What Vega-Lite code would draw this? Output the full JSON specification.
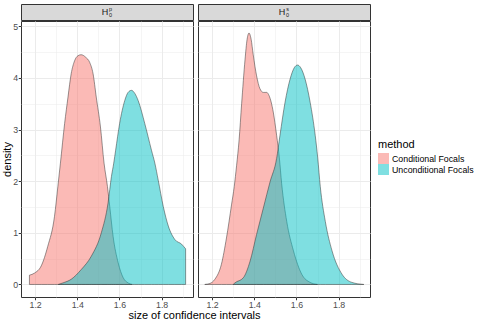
{
  "$schema": "https://vega.github.io/schema/vega-lite/v6.json",
  "padding": {"left": 1, "top": 3, "right": 0, "bottom": 0},
  "background": "white",
  "datasets": {
    "dens": [
      {"panel": "p", "method": "Conditional Focals", "x": 1.173, "density": 0.18},
      {"panel": "p", "method": "Conditional Focals", "x": 1.197, "density": 0.22},
      {"panel": "p", "method": "Conditional Focals", "x": 1.229, "density": 0.36},
      {"panel": "p", "method": "Conditional Focals", "x": 1.26, "density": 0.74},
      {"panel": "p", "method": "Conditional Focals", "x": 1.292, "density": 1.32},
      {"panel": "p", "method": "Conditional Focals", "x": 1.308, "density": 1.9},
      {"panel": "p", "method": "Conditional Focals", "x": 1.32, "density": 2.35},
      {"panel": "p", "method": "Conditional Focals", "x": 1.34, "density": 3.12},
      {"panel": "p", "method": "Conditional Focals", "x": 1.356, "density": 3.63},
      {"panel": "p", "method": "Conditional Focals", "x": 1.371, "density": 4.08},
      {"panel": "p", "method": "Conditional Focals", "x": 1.387, "density": 4.33},
      {"panel": "p", "method": "Conditional Focals", "x": 1.403, "density": 4.43},
      {"panel": "p", "method": "Conditional Focals", "x": 1.418, "density": 4.45},
      {"panel": "p", "method": "Conditional Focals", "x": 1.44, "density": 4.4},
      {"panel": "p", "method": "Conditional Focals", "x": 1.459, "density": 4.3},
      {"panel": "p", "method": "Conditional Focals", "x": 1.475, "density": 4.08},
      {"panel": "p", "method": "Conditional Focals", "x": 1.49, "density": 3.63},
      {"panel": "p", "method": "Conditional Focals", "x": 1.51, "density": 3.05},
      {"panel": "p", "method": "Conditional Focals", "x": 1.527, "density": 2.35},
      {"panel": "p", "method": "Conditional Focals", "x": 1.543, "density": 1.9},
      {"panel": "p", "method": "Conditional Focals", "x": 1.554, "density": 1.51},
      {"panel": "p", "method": "Conditional Focals", "x": 1.57, "density": 0.93},
      {"panel": "p", "method": "Conditional Focals", "x": 1.594, "density": 0.42},
      {"panel": "p", "method": "Conditional Focals", "x": 1.618, "density": 0.13},
      {"panel": "p", "method": "Conditional Focals", "x": 1.641, "density": 0.03},
      {"panel": "p", "method": "Conditional Focals", "x": 1.66, "density": 0.0},
      {"panel": "p", "method": "Unconditional Focals", "x": 1.31, "density": 0.0},
      {"panel": "p", "method": "Unconditional Focals", "x": 1.332, "density": 0.03},
      {"panel": "p", "method": "Unconditional Focals", "x": 1.371, "density": 0.1},
      {"panel": "p", "method": "Unconditional Focals", "x": 1.419, "density": 0.29},
      {"panel": "p", "method": "Unconditional Focals", "x": 1.467, "density": 0.55},
      {"panel": "p", "method": "Unconditional Focals", "x": 1.514, "density": 1.0},
      {"panel": "p", "method": "Unconditional Focals", "x": 1.546, "density": 1.58},
      {"panel": "p", "method": "Unconditional Focals", "x": 1.562, "density": 2.09},
      {"panel": "p", "method": "Unconditional Focals", "x": 1.573, "density": 2.35},
      {"panel": "p", "method": "Unconditional Focals", "x": 1.582, "density": 2.6},
      {"panel": "p", "method": "Unconditional Focals", "x": 1.601, "density": 3.12},
      {"panel": "p", "method": "Unconditional Focals", "x": 1.625, "density": 3.56},
      {"panel": "p", "method": "Unconditional Focals", "x": 1.641, "density": 3.72},
      {"panel": "p", "method": "Unconditional Focals", "x": 1.657, "density": 3.76},
      {"panel": "p", "method": "Unconditional Focals", "x": 1.673, "density": 3.7},
      {"panel": "p", "method": "Unconditional Focals", "x": 1.689, "density": 3.56},
      {"panel": "p", "method": "Unconditional Focals", "x": 1.72, "density": 3.12},
      {"panel": "p", "method": "Unconditional Focals", "x": 1.752, "density": 2.6},
      {"panel": "p", "method": "Unconditional Focals", "x": 1.768, "density": 2.35},
      {"panel": "p", "method": "Unconditional Focals", "x": 1.784, "density": 2.02},
      {"panel": "p", "method": "Unconditional Focals", "x": 1.808, "density": 1.51},
      {"panel": "p", "method": "Unconditional Focals", "x": 1.832, "density": 1.13},
      {"panel": "p", "method": "Unconditional Focals", "x": 1.863, "density": 0.87},
      {"panel": "p", "method": "Unconditional Focals", "x": 1.895, "density": 0.78},
      {"panel": "p", "method": "Unconditional Focals", "x": 1.914, "density": 0.69},
      {"panel": "s", "method": "Conditional Focals", "x": 1.165, "density": 0.0},
      {"panel": "s", "method": "Conditional Focals", "x": 1.19, "density": 0.02},
      {"panel": "s", "method": "Conditional Focals", "x": 1.213, "density": 0.1},
      {"panel": "s", "method": "Conditional Focals", "x": 1.244, "density": 0.39},
      {"panel": "s", "method": "Conditional Focals", "x": 1.268, "density": 0.9},
      {"panel": "s", "method": "Conditional Focals", "x": 1.292, "density": 1.54},
      {"panel": "s", "method": "Conditional Focals", "x": 1.305, "density": 1.9},
      {"panel": "s", "method": "Conditional Focals", "x": 1.316, "density": 2.3},
      {"panel": "s", "method": "Conditional Focals", "x": 1.328, "density": 2.8},
      {"panel": "s", "method": "Conditional Focals", "x": 1.34, "density": 3.5},
      {"panel": "s", "method": "Conditional Focals", "x": 1.356, "density": 4.35},
      {"panel": "s", "method": "Conditional Focals", "x": 1.366, "density": 4.75},
      {"panel": "s", "method": "Conditional Focals", "x": 1.375, "density": 4.87},
      {"panel": "s", "method": "Conditional Focals", "x": 1.385, "density": 4.75},
      {"panel": "s", "method": "Conditional Focals", "x": 1.395, "density": 4.45},
      {"panel": "s", "method": "Conditional Focals", "x": 1.411, "density": 4.04},
      {"panel": "s", "method": "Conditional Focals", "x": 1.427, "density": 3.79},
      {"panel": "s", "method": "Conditional Focals", "x": 1.443, "density": 3.72},
      {"panel": "s", "method": "Conditional Focals", "x": 1.459, "density": 3.72},
      {"panel": "s", "method": "Conditional Focals", "x": 1.47, "density": 3.66},
      {"panel": "s", "method": "Conditional Focals", "x": 1.49, "density": 3.34},
      {"panel": "s", "method": "Conditional Focals", "x": 1.506, "density": 2.89},
      {"panel": "s", "method": "Conditional Focals", "x": 1.519, "density": 2.45},
      {"panel": "s", "method": "Conditional Focals", "x": 1.53, "density": 1.95},
      {"panel": "s", "method": "Conditional Focals", "x": 1.554, "density": 1.22},
      {"panel": "s", "method": "Conditional Focals", "x": 1.586, "density": 0.65},
      {"panel": "s", "method": "Conditional Focals", "x": 1.625, "density": 0.2},
      {"panel": "s", "method": "Conditional Focals", "x": 1.665, "density": 0.04},
      {"panel": "s", "method": "Conditional Focals", "x": 1.7, "density": 0.0},
      {"panel": "s", "method": "Unconditional Focals", "x": 1.3, "density": 0.0},
      {"panel": "s", "method": "Unconditional Focals", "x": 1.308, "density": 0.03},
      {"panel": "s", "method": "Unconditional Focals", "x": 1.348, "density": 0.13},
      {"panel": "s", "method": "Unconditional Focals", "x": 1.38, "density": 0.45},
      {"panel": "s", "method": "Unconditional Focals", "x": 1.411, "density": 0.97},
      {"panel": "s", "method": "Unconditional Focals", "x": 1.443, "density": 1.48},
      {"panel": "s", "method": "Unconditional Focals", "x": 1.475, "density": 1.99},
      {"panel": "s", "method": "Unconditional Focals", "x": 1.506, "density": 2.44},
      {"panel": "s", "method": "Unconditional Focals", "x": 1.522, "density": 2.89},
      {"panel": "s", "method": "Unconditional Focals", "x": 1.546, "density": 3.53},
      {"panel": "s", "method": "Unconditional Focals", "x": 1.57, "density": 3.98},
      {"panel": "s", "method": "Unconditional Focals", "x": 1.59, "density": 4.2},
      {"panel": "s", "method": "Unconditional Focals", "x": 1.605, "density": 4.25},
      {"panel": "s", "method": "Unconditional Focals", "x": 1.62, "density": 4.2},
      {"panel": "s", "method": "Unconditional Focals", "x": 1.641, "density": 3.98},
      {"panel": "s", "method": "Unconditional Focals", "x": 1.665, "density": 3.53},
      {"panel": "s", "method": "Unconditional Focals", "x": 1.689, "density": 2.89},
      {"panel": "s", "method": "Unconditional Focals", "x": 1.701, "density": 2.45},
      {"panel": "s", "method": "Unconditional Focals", "x": 1.713, "density": 1.9},
      {"panel": "s", "method": "Unconditional Focals", "x": 1.737, "density": 1.22},
      {"panel": "s", "method": "Unconditional Focals", "x": 1.769, "density": 0.65},
      {"panel": "s", "method": "Unconditional Focals", "x": 1.816, "density": 0.2},
      {"panel": "s", "method": "Unconditional Focals", "x": 1.863, "density": 0.04},
      {"panel": "s", "method": "Unconditional Focals", "x": 1.92, "density": 0.0}
    ]
  },
  "spacing": 0,
  "resolve": {"scale": {"color": "shared"}, "legend": {"color": "shared"}},
  "vconcat": [
    {
      "spacing": 3,
      "resolve": {"scale": {"color": "shared"}, "legend": {"color": "shared"}},
      "hconcat": [
        {
          "spacing": 1,
          "bounds": "flush",
          "vconcat": [
            {
              "width": 172,
              "height": 16,
              "data": {"values": [{"label": "H", "sup": "p", "sub": "0"}]},
              "view": {"fill": "#D9D9D9", "stroke": "#333333"},
              "layer": [
                {"mark": {"type": "text", "fontSize": 9, "color": "#1A1A1A", "dx": -2, "baseline": "middle"}, "encoding": {"text": {"field": "label"}}},
                {"mark": {"type": "text", "fontSize": 5.5, "color": "#1A1A1A", "dx": 3.5, "dy": -3, "baseline": "middle"}, "encoding": {"text": {"field": "sup"}}},
                {"mark": {"type": "text", "fontSize": 5.5, "color": "#1A1A1A", "dx": 3.5, "dy": 3, "baseline": "middle"}, "encoding": {"text": {"field": "sub"}}}
              ]
            },
            {
              "width": 172,
              "height": 276,
              "data": {"name": "dens"},
              "transform": [{"filter": "datum.panel === 'p'"}],
              "mark": {"type": "area", "fillOpacity": 0.5, "stroke": "#333333", "strokeWidth": 0.5, "interpolate": "monotone"},
              "encoding": {
                "x": {
                  "field": "x", "type": "quantitative",
                  "scale": {"domain": [1.133, 1.949], "nice": false, "zero": false},
                  "axis": {
                    "values": [1.2, 1.3, 1.4, 1.5, 1.6, 1.7, 1.8, 1.9],
                    "labelExpr": "round(datum.value*10) % 2 === 0 ? format(datum.value, '.1f') : ''",
                    "tickOpacity": {"condition": {"test": "round(datum.value*10) % 2 === 0", "value": 1}, "value": 0},
                    "gridWidth": {"condition": {"test": "round(datum.value*10) % 2 === 0", "value": 1}, "value": 0.5},
                    "title": null
                  }
                },
                "y": {
                  "field": "density", "type": "quantitative",
                  "scale": {"domain": [-0.243, 5.103], "nice": false},
                  "axis": {
                    "values": [0, 0.5, 1, 1.5, 2, 2.5, 3, 3.5, 4, 4.5, 5],
                    "labelExpr": "datum.value % 1 === 0 ? format(datum.value, 'd') : ''",
                    "tickOpacity": {"condition": {"test": "datum.value % 1 === 0", "value": 1}, "value": 0},
                    "gridWidth": {"condition": {"test": "datum.value % 1 === 0", "value": 1}, "value": 0.5},
                    "title": "density"
                  }
                },
                "y2": {"datum": 0},
                "color": {
                  "field": "method", "type": "nominal",
                  "scale": {"domain": ["Conditional Focals", "Unconditional Focals"], "range": ["#F8766D", "#00BFC4"]},
                  "legend": {"title": "method", "orient": "none", "legendX": 357, "legendY": 135}
                }
              }
            }
          ]
        },
        {
          "spacing": 1,
          "bounds": "flush",
          "vconcat": [
            {
              "width": 172,
              "height": 16,
              "data": {"values": [{"label": "H", "sup": "s", "sub": "0"}]},
              "view": {"fill": "#D9D9D9", "stroke": "#333333"},
              "layer": [
                {"mark": {"type": "text", "fontSize": 9, "color": "#1A1A1A", "dx": -2, "baseline": "middle"}, "encoding": {"text": {"field": "label"}}},
                {"mark": {"type": "text", "fontSize": 5.5, "color": "#1A1A1A", "dx": 3.5, "dy": -3, "baseline": "middle"}, "encoding": {"text": {"field": "sup"}}},
                {"mark": {"type": "text", "fontSize": 5.5, "color": "#1A1A1A", "dx": 3.5, "dy": 3, "baseline": "middle"}, "encoding": {"text": {"field": "sub"}}}
              ]
            },
            {
              "width": 172,
              "height": 276,
              "data": {"name": "dens"},
              "transform": [{"filter": "datum.panel === 's'"}],
              "mark": {"type": "area", "fillOpacity": 0.5, "stroke": "#333333", "strokeWidth": 0.5, "interpolate": "monotone"},
              "encoding": {
                "x": {
                  "field": "x", "type": "quantitative",
                  "scale": {"domain": [1.133, 1.949], "nice": false, "zero": false},
                  "axis": {
                    "values": [1.2, 1.3, 1.4, 1.5, 1.6, 1.7, 1.8, 1.9],
                    "labelExpr": "round(datum.value*10) % 2 === 0 ? format(datum.value, '.1f') : ''",
                    "tickOpacity": {"condition": {"test": "round(datum.value*10) % 2 === 0", "value": 1}, "value": 0},
                    "gridWidth": {"condition": {"test": "round(datum.value*10) % 2 === 0", "value": 1}, "value": 0.5},
                    "title": null
                  }
                },
                "y": {
                  "field": "density", "type": "quantitative",
                  "scale": {"domain": [-0.243, 5.103], "nice": false},
                  "axis": {
                    "values": [0, 0.5, 1, 1.5, 2, 2.5, 3, 3.5, 4, 4.5, 5],
                    "labels": false,
                    "ticks": false,
                    "gridWidth": {"condition": {"test": "datum.value % 1 === 0", "value": 1}, "value": 0.5},
                    "title": null
                  }
                },
                "y2": {"datum": 0},
                "color": {
                  "field": "method", "type": "nominal",
                  "scale": {"domain": ["Conditional Focals", "Unconditional Focals"], "range": ["#F8766D", "#00BFC4"]},
                  "legend": {"title": "method", "orient": "none", "legendX": 357, "legendY": 135}
                }
              }
            }
          ]
        }
      ]
    },
    {
      "width": 347,
      "height": 4,
      "data": {"values": [{"title": "size of confidence intervals"}]},
      "view": {"stroke": null},
      "mark": {"type": "text", "fontSize": 11, "color": "#000000", "baseline": "middle"},
      "encoding": {"text": {"field": "title"}}
    }
  ],
  "config": {
    "font": "Liberation Sans",
    "view": {"stroke": "#333333", "strokeWidth": 1},
    "axis": {
      "domain": false,
      "gridColor": "#EBEBEB",
      "tickColor": "#333333",
      "tickSize": 2.75,
      "labelColor": "#4D4D4D",
      "labelFontSize": 8.8,
      "labelPadding": 0.5,
      "titleFontSize": 11,
      "titleFontWeight": "normal",
      "titleColor": "#000000",
      "titlePadding": 0
    },
    "legend": {
      "symbolType": "square",
      "symbolSize": 121,
      "symbolStrokeWidth": 0,
      "symbolOpacity": 0.5,
      "rowPadding": 0,
      "labelFontSize": 8.8,
      "labelColor": "#000000",
      "labelOffset": 3,
      "titleFontSize": 11,
      "titleFontWeight": "normal",
      "titleColor": "#000000",
      "titlePadding": 3,
      "padding": 0
    }
  }
}
